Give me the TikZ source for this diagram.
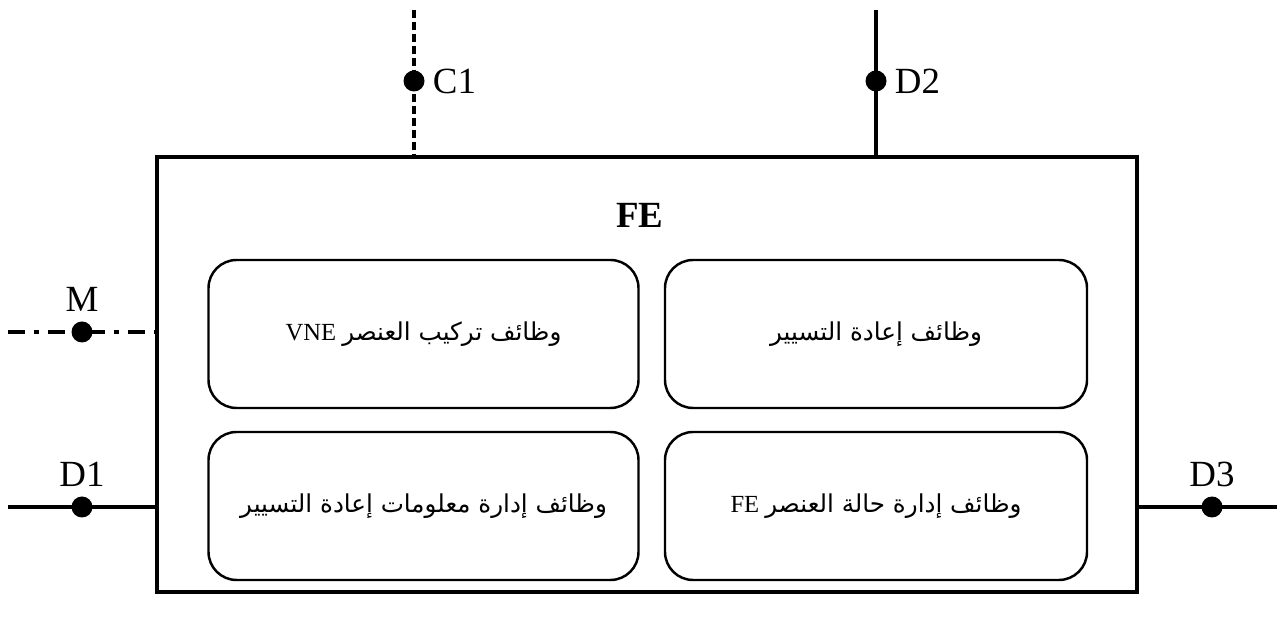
\documentclass[tikz,border=0pt]{standalone}
\usepackage{fontspec}
\setmainfont{Liberation Serif}
\newfontfamily\arabicfont[Script=Arabic]{DejaVu Sans}
\TeXXeTstate=1
\usetikzlibrary{positioning}

\tikzset{
  funcbox/.style={draw,line width=1.4pt,rounded corners=16pt,minimum width=8.6cm,minimum height=2.96cm,font=\fontsize{14}{16}\selectfont},
  port/.style={circle,fill=black,inner sep=0pt,minimum size=0.42cm},
  link/.style={line width=1.9pt},
  portlabel/.style={font=\fontsize{21}{24}\selectfont,inner sep=1pt}
}

\begin{document}
\begin{tikzpicture}
  \useasboundingbox (0,0) rectangle (25.7,12.42);
  % --- outer functional entity ---
  \node[draw,line width=2pt,minimum width=19.6cm,minimum height=8.7cm,inner sep=0pt] (fe) at (12.94,4.93) {};
  \node[font=\fontsize{21}{24}\selectfont\bfseries] (fetitle) at (12.8,8.12) {FE};
  % --- the four function groups ---
  \node[funcbox] (cfg)   at (8.47,5.74)  {\beginR{\arabicfont وظائف تركيب العنصر} VNE\endR};
  \node[funcbox,minimum width=8.44cm] (route) at (17.52,5.74) {\beginR{\arabicfont وظائف إعادة التسيير}\endR};
  \node[funcbox] (rinfo) at (8.47,2.3)   {\beginR{\arabicfont وظائف إدارة معلومات إعادة التسيير}\endR};
  \node[funcbox,minimum width=8.44cm] (state) at (17.52,2.3)  {\beginR{\arabicfont وظائف إدارة حالة العنصر} FE\endR};
  % --- reference points on top ---
  \coordinate (c1end) at (8.28,12.22);
  \coordinate (d2end) at (17.52,12.22);
  \draw[link,dash pattern=on 0.16cm off 0.08cm] (c1end) -- (c1end |- fe.north);
  \draw[link] (d2end) -- (d2end |- fe.north);
  \node[port] (c1) at (8.28,10.8) {};
  \node[port] (d2) at (17.52,10.8) {};
  \node[portlabel,right=0.12cm of c1] (c1lbl) {C1};
  \node[portlabel,right=0.12cm of d2] (d2lbl) {D2};
  % --- reference points on the sides ---
  \coordinate (mend)  at (0.16,5.78);
  \coordinate (d1end) at (0.16,2.28);
  \coordinate (d3end) at (25.54,2.28);
  \draw[link,dash pattern=on 0.34cm off 0.18cm on 0.1cm off 0.18cm] (mend) -- (mend -| fe.west);
  \draw[link] (d1end) -- (d1end -| fe.west);
  \draw[link] (d3end) -- (d3end -| fe.east);
  \node[port] (m)  at (1.64,5.78) {};
  \node[port] (d1) at (1.64,2.28) {};
  \node[port] (d3) at (24.24,2.28) {};
  \node[portlabel,above=0.15cm of m]  (mlbl)  {M};
  \node[portlabel,above=0.15cm of d1] (d1lbl) {D1};
  \node[portlabel,above=0.15cm of d3] (d3lbl) {D3};
\end{tikzpicture}
\end{document}
